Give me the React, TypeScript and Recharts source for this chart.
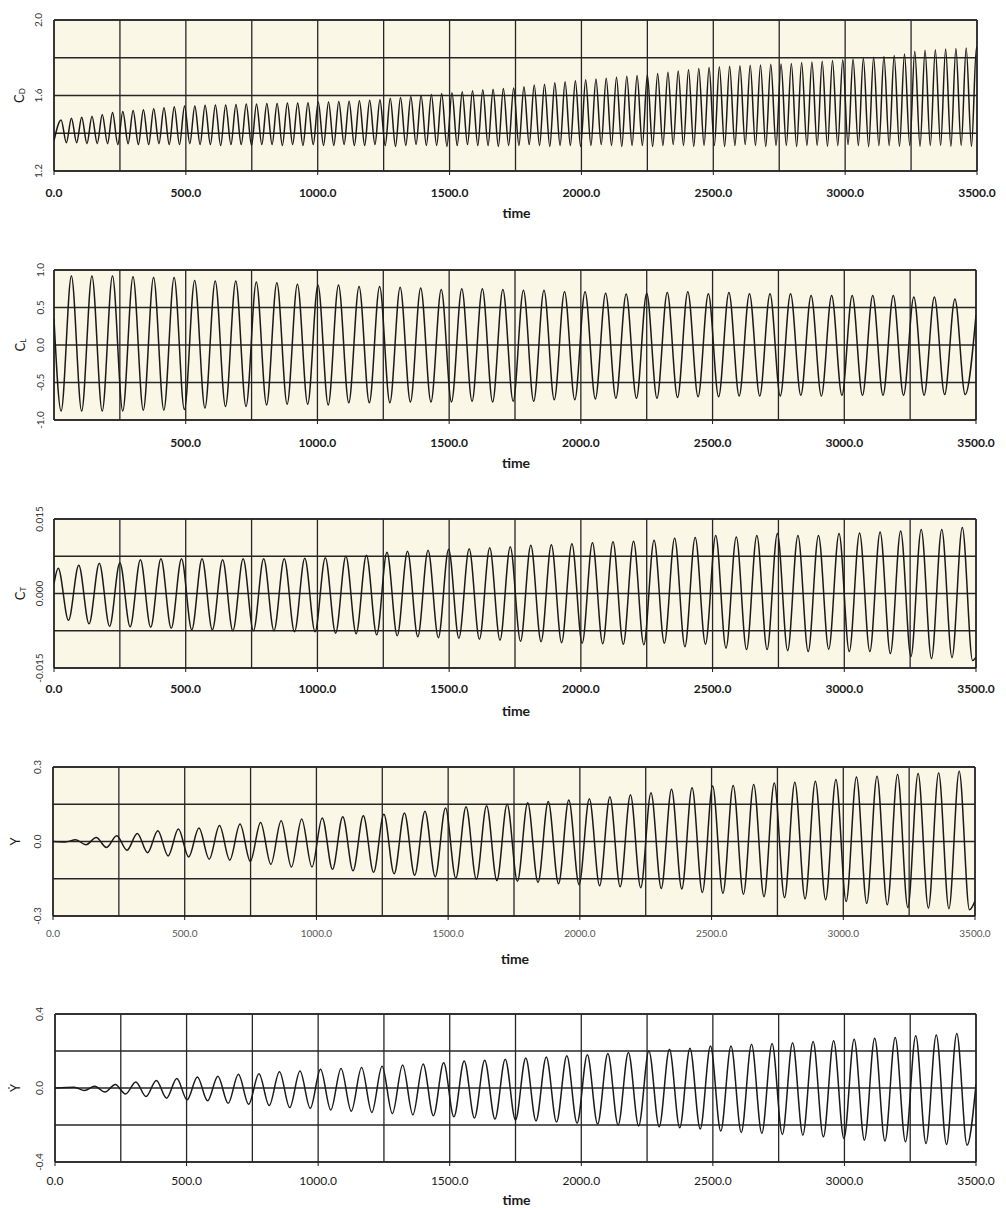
import { LineChart, Line, XAxis, YAxis, CartesianGrid, ReferenceLine } from "recharts";

// ---- time axis ----
const T_TICKS = [0, 250, 500, 750, 1000, 1250, 1500, 1750, 2000, 2250, 2500, 2750, 3000, 3250, 3500];
const T_LABELED = [0, 500, 1000, 1500, 2000, 2500, 3000, 3500];
const T_END = 3500;

// ---- C_D : drag, twice the shedding frequency ----
const CD_PERIOD = 39;
const CD_PEAK_T0 = 27;
const CD_TROUGH_T0 = 47;
const CD_PEAKS = [
  1.47, 1.48, 1.485, 1.49, 1.5, 1.51, 1.515, 1.52, 1.525, 1.53,
  1.535, 1.54, 1.545, 1.545, 1.548, 1.55, 1.55, 1.552, 1.555, 1.555,
  1.557, 1.558, 1.56, 1.56, 1.562, 1.565, 1.566, 1.568, 1.57, 1.572,
  1.575, 1.578, 1.585, 1.59, 1.595, 1.6, 1.605, 1.61, 1.615, 1.62,
  1.625, 1.63, 1.633, 1.637, 1.64, 1.647, 1.655, 1.66, 1.667, 1.673,
  1.678, 1.683, 1.688, 1.692, 1.697, 1.702, 1.706, 1.71, 1.717, 1.723,
  1.73, 1.737, 1.743, 1.748, 1.752, 1.755, 1.757, 1.76, 1.762, 1.765,
  1.767, 1.77, 1.775, 1.778, 1.782, 1.785, 1.789, 1.793, 1.797, 1.802,
  1.807, 1.812, 1.82, 1.835, 1.84, 1.843, 1.846, 1.849, 1.852, 1.855,
];
const CD_TROUGHS = [
  1.35, 1.35, 1.345, 1.345, 1.345, 1.34, 1.345, 1.34, 1.34, 1.345,
  1.34, 1.34, 1.345, 1.34, 1.34, 1.335, 1.34, 1.34, 1.335, 1.34,
  1.34, 1.335, 1.34, 1.335, 1.34, 1.335, 1.335, 1.34, 1.335, 1.335,
  1.34, 1.335, 1.33, 1.335, 1.34, 1.335, 1.335, 1.33, 1.335, 1.34,
  1.335, 1.335, 1.33, 1.335, 1.335, 1.34, 1.335, 1.33, 1.335, 1.335,
  1.33, 1.335, 1.34, 1.335, 1.33, 1.335, 1.335, 1.33, 1.335, 1.34,
  1.335, 1.33, 1.335, 1.335, 1.33, 1.335, 1.34, 1.335, 1.33, 1.335,
  1.335, 1.33, 1.335, 1.335, 1.33, 1.335, 1.34, 1.335, 1.33, 1.335,
  1.335, 1.33, 1.335, 1.33, 1.335, 1.335, 1.33, 1.335, 1.33,
];
const CD_ENDS = [1.36, 1.84];

// ---- C_L : lift ----
const SHED_PERIOD = 78;
const CL_PEAK_T0 = 66;
const CL_TROUGH_T0 = 27;
const CL_PEAKS = [
  0.92, 0.92, 0.92, 0.91, 0.9, 0.9, 0.86, 0.855, 0.855, 0.84,
  0.83, 0.81, 0.8, 0.8, 0.78, 0.78, 0.77, 0.76, 0.74, 0.75,
  0.75, 0.74, 0.73, 0.73, 0.71, 0.71, 0.69, 0.68, 0.69, 0.7,
  0.71, 0.685, 0.7, 0.685, 0.685, 0.685, 0.66, 0.66, 0.66, 0.66,
  0.66, 0.64, 0.64, 0.615,
];
const CL_TROUGHS = [
  -0.88, -0.88, -0.88, -0.88, -0.87, -0.87, -0.86, -0.84, -0.82, -0.82,
  -0.8, -0.79, -0.79, -0.8, -0.77, -0.77, -0.77, -0.76, -0.76, -0.76,
  -0.75, -0.76, -0.75, -0.75, -0.73, -0.73, -0.72, -0.71, -0.71, -0.71,
  -0.7, -0.69, -0.69, -0.68, -0.68, -0.68, -0.67, -0.68, -0.67, -0.67,
  -0.67, -0.67, -0.67, -0.66, -0.66,
];
const CL_ENDS = [0.35, 0.4];

// ---- C_T ----
const CT_PEAK_T0 = 16;
const CT_TROUGH_T0 = 55;
const CT_PEAKS = [
  0.0051, 0.0057, 0.0061, 0.0062, 0.0068, 0.007, 0.007, 0.007, 0.0068, 0.007,
  0.007, 0.007, 0.0071, 0.0072, 0.0075, 0.0077, 0.0083, 0.0085, 0.0087, 0.0089,
  0.009, 0.0092, 0.0094, 0.0097, 0.0098, 0.01, 0.0102, 0.0104, 0.0105, 0.0107,
  0.0111, 0.0113, 0.0117, 0.0114, 0.0117, 0.0121, 0.0117, 0.0117, 0.0121, 0.0122,
  0.0124, 0.0126, 0.0129, 0.0129, 0.0133,
];
const CT_TROUGHS = [
  -0.0054, -0.0061, -0.0066, -0.0067, -0.0068, -0.007, -0.0073, -0.0073, -0.0075, -0.0075,
  -0.0075, -0.0077, -0.0077, -0.008, -0.0081, -0.0083, -0.0085, -0.0087, -0.0089, -0.009,
  -0.0092, -0.0094, -0.0096, -0.0097, -0.0099, -0.01, -0.0101, -0.0102, -0.0103, -0.01,
  -0.0107, -0.0102, -0.011, -0.0113, -0.0113, -0.0115, -0.0117, -0.0112, -0.0117, -0.0117,
  -0.0121, -0.0127, -0.0131, -0.0129, -0.0135,
];
const CT_ENDS = [0.002, -0.0128];

// ---- Y : transverse displacement ----
const Y_PEAK_T0 = 86;
const Y_TROUGH_T0 = 47;
const Y_PEAKS = [
  0.007, 0.016, 0.023, 0.032, 0.043, 0.05, 0.054, 0.064, 0.07, 0.077,
  0.084, 0.091, 0.095, 0.1, 0.104, 0.11, 0.115, 0.122, 0.135, 0.14,
  0.144, 0.15, 0.156, 0.161, 0.167, 0.172, 0.18, 0.188, 0.196, 0.21,
  0.216, 0.223, 0.226, 0.23, 0.236, 0.239, 0.243, 0.25, 0.26, 0.263,
  0.27, 0.274, 0.276, 0.283,
];
const Y_TROUGHS = [
  -0.002, -0.013, -0.024, -0.035, -0.045, -0.058, -0.062, -0.071, -0.075, -0.08,
  -0.092, -0.103, -0.103, -0.112, -0.118, -0.124, -0.13, -0.136, -0.142, -0.148,
  -0.152, -0.157, -0.16, -0.165, -0.17, -0.174, -0.178, -0.182, -0.186, -0.189,
  -0.191, -0.205, -0.208, -0.212, -0.222, -0.226, -0.231, -0.235, -0.242, -0.249,
  -0.255, -0.266, -0.268, -0.271, -0.275,
];
const Y_ENDS = [0, -0.24];

// ---- dY/dt ----
const YD_PEAK_T0 = 73;
const YD_TROUGH_T0 = 112;
const YD_PEAKS = [
  0.004, 0.009, 0.019, 0.033, 0.041, 0.052, 0.059, 0.064, 0.074, 0.077,
  0.088, 0.092, 0.101, 0.106, 0.111, 0.118, 0.124, 0.13, 0.136, 0.146,
  0.15, 0.156, 0.162, 0.168, 0.174, 0.18, 0.186, 0.192, 0.2, 0.209,
  0.215, 0.227, 0.227, 0.236, 0.24, 0.245, 0.251, 0.255, 0.264, 0.269,
  0.273, 0.282, 0.287, 0.295,
];
const YD_TROUGHS = [
  -0.014, -0.022, -0.033, -0.046, -0.055, -0.064, -0.069, -0.083, -0.088, -0.095,
  -0.106, -0.11, -0.119, -0.125, -0.132, -0.138, -0.145, -0.15, -0.156, -0.162,
  -0.168, -0.173, -0.178, -0.184, -0.19, -0.195, -0.2, -0.205, -0.21, -0.215,
  -0.222, -0.233, -0.24, -0.245, -0.251, -0.255, -0.264, -0.273, -0.282, -0.287,
  -0.291, -0.3, -0.305, -0.309,
];
const YD_ENDS = [0, 0.02];

// ---- y axes ----
const CD_TICKS = [1.2, 1.4, 1.6, 1.8, 2.0];
const CD_TICK_LABELS = ["1.2", "", "1.6", "", "2.0"];
const CL_TICKS = [-1, -0.5, 0, 0.5, 1];
const CL_TICK_LABELS = ["-1.0", "-0.5", "0.0", "0.5", "1.0"];
const CT_TICKS = [-0.015, -0.0075, 0, 0.0075, 0.015];
const CT_TICK_LABELS = ["-0.015", "", "0.000", "", "0.015"];
const Y_TICKS = [-0.3, -0.15, 0, 0.15, 0.3];
const Y_TICK_LABELS = ["-0.3", "", "0.0", "", "0.3"];
const YD_TICKS = [-0.4, -0.2, 0, 0.2, 0.4];
const YD_TICK_LABELS = ["-0.4", "", "0.0", "", "0.4"];

const INK = "#1a1a1a";
const GRID = "#262626";
const PAPER = "#faf7e6";
const FONT = "Lato, 'Liberation Sans', Arial, sans-serif";

type Pt = { t: number; v: number };

// interleave the read extremes by time; the curve is smoothed between them
function extremes(peaks: number[], pT0: number, troughs: number[], tT0: number, period: number, ends: number[]): Pt[] {
  const pts: Pt[] = [{ t: 0, v: ends[0] }];
  peaks.forEach((v, k) => {
    const t = pT0 + k * period;
    if (t < T_END) pts.push({ t, v });
  });
  troughs.forEach((v, k) => {
    const t = tT0 + k * period;
    if (t < T_END) pts.push({ t, v });
  });
  pts.push({ t: T_END, v: ends[1] });
  return pts.sort((a, b) => a.t - b.t);
}

type Panel = {
  top: number;
  bottom: number;
  left: number;
  right: number;
  data: Pt[];
  ticks: number[];
  tickLabels: string[];
  name: string;
  sub?: string;
  tickX: number;
  nameX: number;
  xLabels: number[];
  xLabelDy: number;
  xWeight: number;
  xSize: number;
  xColor: string;
  timeDy: number;
  paper: string;
};

const PANELS: Panel[] = [
  {
    top: 20, bottom: 171, left: 54, right: 977,
    data: extremes(CD_PEAKS, CD_PEAK_T0, CD_TROUGHS, CD_TROUGH_T0, CD_PERIOD, CD_ENDS),
    ticks: CD_TICKS, tickLabels: CD_TICK_LABELS, name: "C", sub: "D",
    tickX: 38, nameX: 19, xLabels: T_LABELED, xLabelDy: 21, xWeight: 700, xSize: 12, xColor: INK, timeDy: 41, paper: PAPER,
  },
  {
    top: 270, bottom: 420, left: 54, right: 976,
    data: extremes(CL_PEAKS, CL_PEAK_T0, CL_TROUGHS, CL_TROUGH_T0, SHED_PERIOD, CL_ENDS),
    ticks: CL_TICKS, tickLabels: CL_TICK_LABELS, name: "C", sub: "L",
    tickX: 40, nameX: 20, xLabels: T_LABELED.slice(1), xLabelDy: 22, xWeight: 700, xSize: 12, xColor: INK, timeDy: 42, paper: PAPER,
  },
  {
    top: 519, bottom: 668, left: 54, right: 976,
    data: extremes(CT_PEAKS, CT_PEAK_T0, CT_TROUGHS, CT_TROUGH_T0, SHED_PERIOD, CT_ENDS),
    ticks: CT_TICKS, tickLabels: CT_TICK_LABELS, name: "C", sub: "T",
    tickX: 39, nameX: 20, xLabels: T_LABELED, xLabelDy: 20, xWeight: 700, xSize: 12, xColor: INK, timeDy: 42, paper: PAPER,
  },
  {
    top: 767, bottom: 916, left: 53, right: 975,
    data: extremes(Y_PEAKS, Y_PEAK_T0, Y_TROUGHS, Y_TROUGH_T0, SHED_PERIOD, Y_ENDS),
    ticks: Y_TICKS, tickLabels: Y_TICK_LABELS, name: "Y",
    tickX: 37, nameX: 15, xLabels: T_LABELED, xLabelDy: 17, xWeight: 400, xSize: 10, xColor: "#555", timeDy: 42, paper: PAPER,
  },
  {
    top: 1014, bottom: 1162, left: 55, right: 976,
    data: extremes(YD_PEAKS, YD_PEAK_T0, YD_TROUGHS, YD_TROUGH_T0, SHED_PERIOD, YD_ENDS),
    ticks: YD_TICKS, tickLabels: YD_TICK_LABELS, name: "\u1E8E",
    tickX: 39, nameX: 15, xLabels: T_LABELED, xLabelDy: 18, xWeight: 400, xSize: 12, xColor: INK, timeDy: 37, paper: "#ffffff",
  },
];

const PAD_TOP = 20;
const AXIS_H = 30;
const PAD_BOTTOM = 20;

function PanelChart({ p }: { p: Panel }) {
  const plotH = p.bottom - p.top;
  const height = plotH + PAD_TOP + AXIS_H + PAD_BOTTOM;
  const plotBottom = PAD_TOP + plotH;
  const midY = PAD_TOP + plotH / 2;
  const midX = (p.left + p.right) / 2 + 1;
  const [lo, hi] = [p.ticks[0], p.ticks[p.ticks.length - 1]];

  const xTick = (props: any) => {
    const v = props.payload?.value;
    if (!p.xLabels.includes(v)) return <g />;
    return (
      <g>
        <line x1={props.x} x2={props.x} y1={plotBottom} y2={plotBottom + 4} stroke={INK} strokeWidth={1} />
        <text
          x={props.x}
          y={plotBottom + p.xLabelDy}
          textAnchor="middle"
          dominantBaseline="central"
          fontFamily={FONT}
          fontWeight={p.xWeight}
          fontSize={p.xSize}
          fill={p.xColor}
        >
          {v.toFixed(1)}
        </text>
      </g>
    );
  };

  const yTick = (props: any) => {
    const i = p.ticks.indexOf(props.payload?.value);
    const label = i >= 0 ? p.tickLabels[i] : "";
    if (!label) return <g />;
    return (
      <text
        x={p.tickX}
        y={props.y}
        transform={`rotate(-90, ${p.tickX}, ${props.y})`}
        textAnchor="middle"
        dominantBaseline="central"
        fontFamily={FONT}
        fontSize={10}
        fill="#333"
      >
        {label}
      </text>
    );
  };

  const yName = () => (
    <text
      x={p.nameX}
      y={midY}
      transform={`rotate(-90, ${p.nameX}, ${midY})`}
      textAnchor="middle"
      dominantBaseline="central"
      fontFamily={FONT}
      fontSize={13}
      fill={INK}
    >
      {p.name}
      {p.sub && (
        <tspan fontSize={8} dy={3}>
          {p.sub}
        </tspan>
      )}
    </text>
  );

  const timeLabel = () => (
    <text
      x={midX}
      y={plotBottom + p.timeDy}
      textAnchor="middle"
      dominantBaseline="central"
      fontFamily={FONT}
      fontWeight={700}
      fontSize={14}
      fill={INK}
    >
      time
    </text>
  );

  return (
    <div style={{ position: "absolute", left: 0, top: p.top - PAD_TOP }}>
      <LineChart
        width={1006}
        height={height}
        data={p.data}
        margin={{ top: PAD_TOP, right: 1006 - p.right, bottom: PAD_BOTTOM, left: 0 }}
      >
        <CartesianGrid stroke={GRID} strokeWidth={1.3} fill={p.paper} fillOpacity={1} />
        <XAxis
          dataKey="t"
          type="number"
          domain={[0, T_END]}
          ticks={T_TICKS}
          interval={0}
          height={AXIS_H}
          axisLine={false}
          tickLine={false}
          tick={xTick}
          allowDataOverflow
          label={timeLabel}
        />
        <YAxis
          type="number"
          domain={[lo, hi]}
          ticks={p.ticks}
          interval={0}
          width={p.left}
          axisLine={false}
          tickLine={false}
          tick={yTick}
          allowDataOverflow
          label={yName}
        />
        <ReferenceLine x={0} stroke={GRID} strokeWidth={1.5} />
        <ReferenceLine x={T_END} stroke={GRID} strokeWidth={1.5} />
        <ReferenceLine y={lo} stroke={GRID} strokeWidth={1.5} />
        <ReferenceLine y={hi} stroke={GRID} strokeWidth={1.5} />
        <Line
          type="monotone"
          dataKey="v"
          stroke={INK}
          strokeWidth={1.5}
          dot={false}
          isAnimationActive={false}
        />
      </LineChart>
    </div>
  );
}

export default function App() {
  return (
    <div style={{ position: "absolute", left: 0, top: 0, width: 1006, height: 1208, background: "#fff" }}>
      {PANELS.map((p, i) => (
        <PanelChart key={i} p={p} />
      ))}
    </div>
  );
}
